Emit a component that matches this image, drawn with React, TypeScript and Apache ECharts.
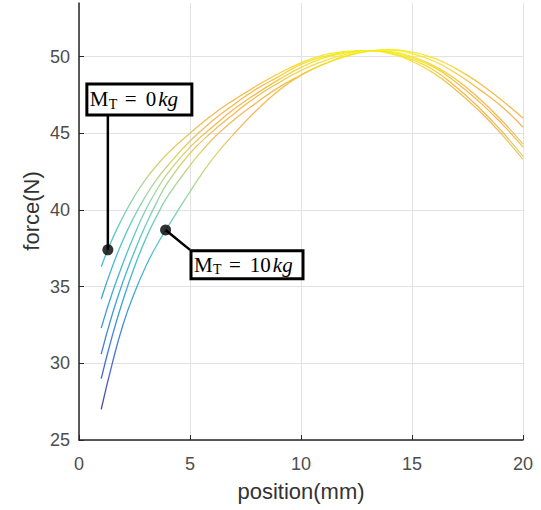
import React, { useEffect, useRef } from "react";
import * as echarts from "echarts";

// x positions (mm) at which the curves were read
const positions = [1, 1.5, 2, 2.5, 3, 3.5, 4, 5, 6, 7, 8, 9, 10, 11, 12, 13, 14, 15, 16, 17, 18, 19, 20];

// force (N) for each total mass M_T
const forceMT0 = [36.3, 38.1, 39.6, 40.9, 42.0, 42.9, 43.7, 45.0, 46.2, 47.2, 48.1, 48.9, 49.6, 50.1, 50.35, 50.4, 50.2, 49.7, 48.9, 47.8, 46.5, 45.0, 43.3];
const forceMT2 = [34.2, 36.3, 38.1, 39.6, 40.9, 42.0, 42.9, 44.5, 45.8, 46.9, 47.9, 48.7, 49.5, 50.0, 50.3, 50.4, 50.25, 49.8, 49.1, 48.0, 46.7, 45.2, 43.5];
const forceMT4 = [32.3, 34.6, 36.6, 38.4, 40.0, 41.3, 42.4, 44.1, 45.4, 46.6, 47.6, 48.5, 49.3, 49.9, 50.25, 50.4, 50.3, 49.9, 49.3, 48.3, 47.1, 45.7, 44.1];
const forceMT6 = [30.6, 33.2, 35.4, 37.3, 39.0, 40.5, 41.8, 43.7, 45.1, 46.3, 47.4, 48.3, 49.1, 49.7, 50.15, 50.4, 50.35, 50.0, 49.4, 48.5, 47.3, 45.9, 44.3];
const forceMT8 = [29.0, 31.8, 34.2, 36.3, 38.1, 39.6, 40.9, 42.9, 44.6, 45.9, 47.0, 48.0, 48.8, 49.5, 50.05, 50.35, 50.45, 50.2, 49.7, 48.9, 47.9, 46.8, 45.4];
const forceMT10 = [27.0, 30.0, 32.6, 34.6, 36.3, 37.7, 38.9, 41.2, 43.3, 45.0, 46.5, 47.8, 48.8, 49.5, 50.0, 50.35, 50.45, 50.3, 49.9, 49.2, 48.3, 47.2, 46.0];

const massLabels = ["0", "2", "4", "6", "8", "10"];
const curves = [forceMT0, forceMT2, forceMT4, forceMT6, forceMT8, forceMT10];

// axes
const xMin = 0;
const xMax = 20;
const yMin = 25;
const yMax = 53.5;
const tickStep = 5;
const xAxisTitle = "position(mm)";
const yAxisTitle = "force(N)";

// colour scale range (force values)
const colorMin = 27;
const colorMax = 50.45;

// annotations
const annotationMasses = ["0", "10"];
const annotationPoints = [
  [1.3, 37.4],
  [3.9, 38.7],
];
const annotationAnchors = [
  [1.3, 46.2],
  [5.0, 37.4],
];

const colorScale = [
  "#3d2a96",
  "#3550d6",
  "#2b78e0",
  "#2899da",
  "#33b2d0",
  "#52c6c0",
  "#92d29a",
  "#d9cf5e",
  "#f2b048",
  "#f3b535",
  "#f4ee1c",
];

const boxGeom = [
  { dx: -21, dy: -31, w: 105, h: 31 },
  { dx: 1, dy: 1, w: 112, h: 28 },
];

export default function App() {
  const ref = useRef<HTMLDivElement | null>(null);

  useEffect(() => {
    if (!ref.current) return;
    const chart = echarts.init(ref.current, undefined, { renderer: "svg" });
    const sans = "Liberation Sans, Arial, sans-serif";

    const axisCommon = {
      type: "value" as const,
      nameLocation: "middle" as const,
      nameTextStyle: { fontFamily: sans, fontSize: 22, color: "#333" },
      axisLine: { show: true, onZero: false, lineStyle: { color: "#262626", width: 1.5 } },
      axisTick: { show: true, inside: true, length: 5, lineStyle: { color: "#262626", width: 1 } },
      splitLine: { show: true, lineStyle: { color: "#e2e2e2", width: 1 } },
    };

    const curveSeries = curves.map((arr, i) => ({
      type: "line",
      name: `M_T = ${massLabels[i]}kg`,
      data: positions.map((x, j) => [x, arr[j]]),
      showSymbol: false,
      smooth: true,
      lineStyle: { width: 1.3, opacity: 0.9 },
      z: 2,
      silent: true,
    }));

    const leaderSeries = annotationPoints.map((p, i) => ({
      type: "line",
      data: [p, annotationAnchors[i]],
      symbol: "none",
      lineStyle: { color: "#000", width: 2.5 },
      itemStyle: { color: "#000" },
      z: 5,
      silent: true,
    }));

    const dotSeries = {
      type: "scatter",
      data: annotationPoints,
      symbolSize: 11,
      itemStyle: { color: "#000" },
      z: 6,
      silent: true,
    };

    chart.setOption({
      animation: false,
      backgroundColor: "#ffffff",
      grid: { left: 79, right: 18, top: 3, bottom: 70, containLabel: false },
      xAxis: {
        ...axisCommon,
        min: xMin,
        max: xMax,
        interval: tickStep,
        name: xAxisTitle,
        nameGap: 40,
        axisLabel: { fontFamily: sans, fontSize: 18, color: "#4d4d4d", margin: 15 },
      },
      yAxis: {
        ...axisCommon,
        min: yMin,
        max: yMax,
        interval: tickStep,
        axisLabel: { fontFamily: sans, fontSize: 18, color: "#4d4d4d", margin: 9, showMaxLabel: false },
        splitLine: { show: true, showMaxLine: false, lineStyle: { color: "#e2e2e2", width: 1 } },
      },
      visualMap: {
        type: "continuous",
        show: false,
        dimension: 1,
        seriesIndex: curves.map((_, i) => i),
        min: colorMin,
        max: colorMax,
        inRange: { color: colorScale },
      },
      series: [...curveSeries, ...leaderSeries, dotSeries],
    });

    const serif = "Liberation Serif, Times New Roman, serif";
    const graphics: any[] = [];

    // y axis title, rotated
    graphics.push({
      type: "text",
      x: 31,
      y: 211,
      rotation: Math.PI / 2,
      silent: true,
      style: { text: yAxisTitle, fontFamily: sans, fontSize: 22, fill: "#333", align: "center", verticalAlign: "middle" },
    });

    annotationAnchors.forEach((a, i) => {
      const [px, py] = chart.convertToPixel({ gridIndex: 0 }, a) as number[];
      const g = boxGeom[i];
      const rx = px + g.dx;
      const ry = py + g.dy;
      const cy = ry + g.h / 2;
      graphics.push({
        type: "rect",
        shape: { x: rx, y: ry, width: g.w, height: g.h },
        style: { fill: "#fff", stroke: "#000", lineWidth: 3 },
        z: 20,
        silent: true,
      });
      graphics.push({
        type: "text",
        x: rx + 3,
        y: cy,
        z: 21,
        silent: true,
        style: { text: "M", fontFamily: serif, fontSize: 21, fill: "#000", align: "left", verticalAlign: "middle" },
      });
      graphics.push({
        type: "text",
        x: rx + 22,
        y: cy + 5,
        z: 21,
        silent: true,
        style: { text: "T", fontFamily: serif, fontSize: 14, fill: "#000", align: "left", verticalAlign: "middle" },
      });
      graphics.push({
        type: "text",
        x: rx + 31,
        y: cy,
        z: 21,
        silent: true,
        style: {
          text: `{eq|=}{n|${annotationMasses[i]}}{i|kg}`,
          align: "left",
          verticalAlign: "middle",
          rich: {
            eq: { fontFamily: serif, fontSize: 21, color: "#000", lineHeight: 22, padding: [0, 9, 0, 7] },
            n: { fontFamily: serif, fontSize: 21, color: "#000", lineHeight: 22 },
            i: { fontFamily: serif, fontSize: 21, fontStyle: "italic", color: "#000", lineHeight: 22, padding: [0, 0, 0, 2] },
          },
        },
      });
    });
    chart.setOption({ graphic: graphics });

    return () => {
      chart.dispose();
    };
  }, []);

  return (
    <div
      ref={ref}
      style={{ position: "fixed", left: 0, top: 0, width: 541, height: 510, background: "#fff" }}
    />
  );
}
